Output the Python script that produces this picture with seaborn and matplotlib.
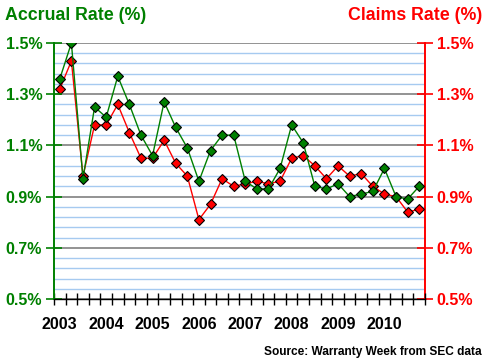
import numpy as np
import pandas as pd
import matplotlib
matplotlib.use("Agg")
import matplotlib.pyplot as plt
import seaborn as sns
from matplotlib.ticker import FixedLocator, FuncFormatter

# quarterly data, 2003 Q1 .. 2010 Q4
years = [2003, 2004, 2005, 2006, 2007, 2008, 2009, 2010]
quarters = [f"{y} Q{q}" for y in years for q in range(1, 5)]
accrual = [1.36, 1.50, 0.97, 1.25, 1.21, 1.37, 1.26, 1.14,
           1.06, 1.27, 1.17, 1.09, 0.96, 1.08, 1.14, 1.14,
           0.96, 0.93, 0.93, 1.01, 1.18, 1.11, 0.94, 0.93,
           0.95, 0.90, 0.91, 0.92, 1.01, 0.90, 0.89, 0.94]
claims = [1.32, 1.43, 0.98, 1.18, 1.18, 1.26, 1.15, 1.05,
          1.05, 1.12, 1.03, 0.98, 0.81, 0.87, 0.97, 0.94,
          0.95, 0.96, 0.95, 0.96, 1.05, 1.06, 1.02, 0.97,
          1.02, 0.98, 0.99, 0.94, 0.91, 0.90, 0.84, 0.85]
major_ticks = [0.5, 0.7, 0.9, 1.1, 1.3, 1.5]

df = pd.DataFrame({"quarter": quarters, "accrual": accrual, "claims": claims})
df["pos"] = np.arange(len(df))

GREEN = "#008000"
RED = "#FF0000"

sns.set_style("white")
plt.rcParams["font.family"] = ["Liberation Sans", "DejaVu Sans"]
plt.rcParams["font.weight"] = "bold"

fig = plt.figure(figsize=(4.85, 3.63), dpi=100)
ax = fig.add_axes([54 / 485, 1 - 299 / 363, (425 - 54) / 485, (299 - 43) / 363])
ax2 = ax.twinx()

ax.set_ylim(0.5, 1.5)
ax2.set_ylim(0.5, 1.5)
ax.set_xlim(-0.5, len(df) - 0.5)

# grid on the back axes (claims), so markers sit above it
for v in np.arange(0.5, 1.5001, 0.04):
    is_major = any(abs(v - m) < 1e-6 for m in major_ticks)
    ax2.axhline(v, color="#808080" if is_major else "#A6CAF0", lw=1.2 if is_major else 1.0, zorder=0)

sns.lineplot(data=df, x="pos", y="accrual", ax=ax, color=GREEN, lw=1.0,
             marker="D", markersize=5.6, markerfacecolor=GREEN,
             markeredgecolor="black", markeredgewidth=0.8, zorder=4)
sns.lineplot(data=df, x="pos", y="claims", ax=ax2, color=RED, lw=1.0,
             marker="D", markersize=5.6, markerfacecolor=RED,
             markeredgecolor="black", markeredgewidth=0.8, zorder=3)
ax.set_zorder(ax2.get_zorder() + 1)
ax.patch.set_visible(False)
ax2.set_ylim(0.5, 1.5)
ax.set_xlim(-0.5, len(df) - 0.5)

pct = FuncFormatter(lambda v, p: f"{v:.1f}%")
for a, c in [(ax, GREEN), (ax2, RED)]:
    a.yaxis.set_major_locator(FixedLocator(major_ticks))
    a.yaxis.set_major_formatter(pct)
    a.tick_params(axis="y", which="major", direction="inout", length=11, width=1.2,
                  color=c, labelcolor=c, labelsize=11.5, pad=3)
    for lab in a.get_yticklabels():
        lab.set_fontweight("bold")
    a.set_ylabel("")
    a.set_xlabel("")
    for s in a.spines.values():
        s.set_visible(False)
ax.tick_params(axis="y", left=True, right=False)
ax2.tick_params(axis="y", left=False, right=True)

ax.spines["left"].set_visible(True)
ax.spines["left"].set_color(GREEN)
ax.spines["left"].set_linewidth(1.4)
ax2.spines["right"].set_visible(True)
ax2.spines["right"].set_color(RED)
ax2.spines["right"].set_linewidth(1.4)
ax.spines["bottom"].set_visible(True)
ax.spines["bottom"].set_color("black")
ax.spines["bottom"].set_linewidth(1.0)

# x axis: ticks at quarter boundaries, year labels at Q1
ax.set_xticks(df["pos"][::4])
ax.set_xticklabels([str(y) for y in years], fontsize=11.5, fontweight="bold")
ax.set_xticks(np.arange(-0.5, len(df), 1.0), minor=True)
ax.tick_params(axis="x", which="major", bottom=True, length=0, pad=13, labelcolor="black")
ax.tick_params(axis="x", which="minor", bottom=True, direction="inout", length=8,
               width=1.0, color="black")
ax2.tick_params(axis="x", which="both", length=0)

fig.text(5 / 485, 1 - 15 / 363, "Accrual Rate (%)", color=GREEN, fontsize=12.8,
         fontweight="bold", ha="left", va="center")
fig.text(482 / 485, 1 - 15 / 363, "Claims Rate (%)", color=RED, fontsize=12.8,
         fontweight="bold", ha="right", va="center")
fig.text(482 / 485, 1 - 352 / 363, "Source: Warranty Week from SEC data", color="black",
         fontsize=8.6, fontweight="bold", ha="right", va="center")

fig.savefig("out.png", dpi=100, facecolor="white")
